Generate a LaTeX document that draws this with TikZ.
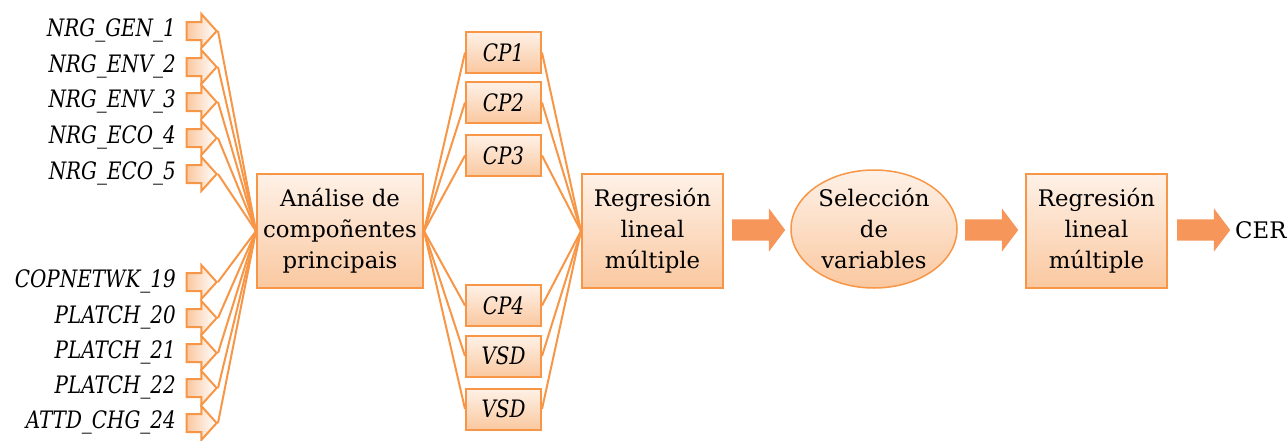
\documentclass[tikz,border=0pt]{standalone}
\usepackage{fontspec}
\setmainfont{DejaVu Serif}
\newfontfamily\labfont[FakeStretch=0.83]{DejaVu Serif}
\usetikzlibrary{shapes.arrows,shapes.geometric}
\definecolor{edge}{HTML}{F79646}
\definecolor{boxtop}{RGB}{254,241,231}
\definecolor{boxbot}{RGB}{250,200,160}
\definecolor{bigarrow}{RGB}{246,150,90}
\begin{document}
\begin{tikzpicture}[x=1pt,y=-1pt,
  conn/.style={draw=edge, line width=2pt},
  box/.style={draw=edge, line width=2pt, top color=boxtop, bottom color=boxbot,
    align=center, inner sep=0pt, font=\fontsize{22.8}{31}\selectfont},
  cpbox/.style={box, minimum width=75pt, minimum height=41pt,
    font=\labfont\itshape\fontsize{24}{26}\selectfont},
  lab/.style={anchor=east, inner sep=0pt, font=\labfont\itshape\fontsize{24}{26}\selectfont},
  inarrow/.style={single arrow, draw=edge, line width=2pt, line join=miter,
    left color=boxbot, right color=white, inner xsep=0pt, inner ysep=8pt,
    single arrow head extend=8pt, single arrow tip angle=96, minimum height=30pt,
    anchor=tip},
  bigarrowstyle/.style={single arrow, fill=bigarrow, draw=none, inner xsep=0pt,
    inner ysep=10.5pt, single arrow head extend=11pt, single arrow tip angle=106,
    minimum height=53pt, anchor=tail}
]
\useasboundingbox (0,0) rectangle (1287,440);

% input variables with their hollow arrows
\foreach \i/\y/\t in {1/31/NRG\_GEN\_1, 2/67/NRG\_ENV\_2, 3/102/NRG\_ENV\_3,
    4/138/NRG\_ECO\_4, 5/174/NRG\_ECO\_5, 6/282/COPNETWK\_19, 7/318/PLATCH\_20,
    8/353/PLATCH\_21, 9/388/PLATCH\_22, 10/423/ATTD\_CHG\_24} {
  \node[lab] (l\i) at (176,\y-1) {\t};
  \node[inarrow] (a\i) at (218,\y) {};
}

% principal component analysis
\node[box, minimum width=166pt, minimum height=114pt] (ana) at (340,231)
  {Análise de\\compoñentes\\principais};

% components
\node[cpbox] (c1) at (503.5,52.5) {CP1};
\node[cpbox] (c2) at (503.5,102.5) {CP2};
\node[cpbox] (c3) at (503.5,155.5) {CP3};
\node[cpbox] (c4) at (503.5,305.5) {CP4};
\node[cpbox] (c5) at (503.5,356) {VSD};
\node[cpbox] (c6) at (503.5,409) {VSD};

% regression, selection, regression
\node[box, minimum width=141pt, minimum height=114pt] (reg1) at (652.5,231)
  {Regresión\\lineal\\múltiple};
\node[box, ellipse, line width=1.5pt, minimum width=166pt, minimum height=118pt] (sel) at (874,229)
  {Selección\\de\\variables};
\node[box, minimum width=141pt, minimum height=114pt] (reg2) at (1096.5,231)
  {Regresión\\lineal\\múltiple};
\node[anchor=west, inner sep=0pt, font=\fontsize{22.8}{26}\selectfont] (cer) at (1235,230) {CER};

% solid arrows between stages
\node[bigarrowstyle] (b1) at (732,230) {};
\node[bigarrowstyle] (b2) at (965,230) {};
\node[bigarrowstyle] (b3) at (1177,230) {};

% connectors
\foreach \i in {1,...,10} \draw[conn] (a\i.tip) -- (ana.west);
\foreach \i in {1,...,6} {
  \draw[conn] (ana.east) -- (c\i.west);
  \draw[conn] (c\i.east) -- (reg1.west);
}
\end{tikzpicture}
\end{document}
